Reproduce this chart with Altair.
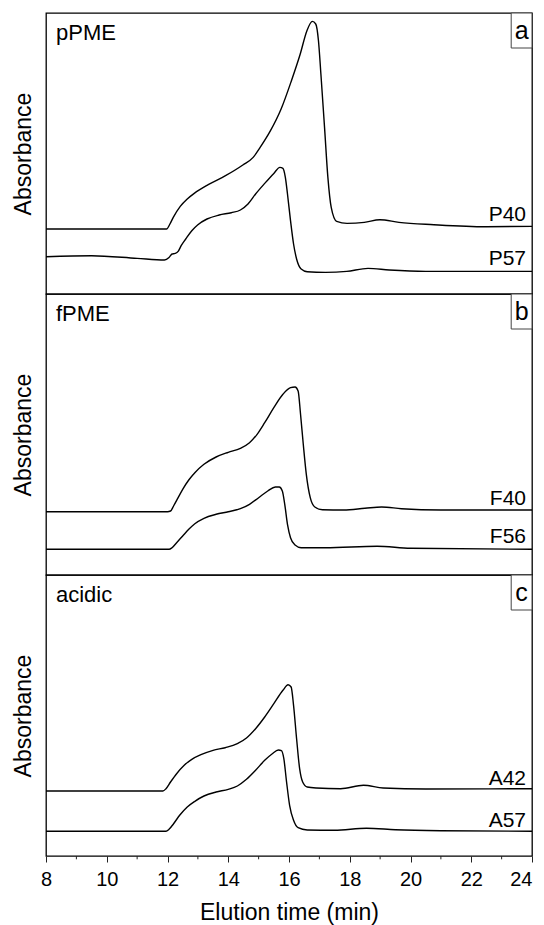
import altair as alt
import pandas as pd

# ---------------- data ----------------
P40_t = [8.0, 10.0, 11.97, 12.08, 12.19, 12.42, 12.65, 12.88, 13.34, 13.91, 14.48, 14.82,
         15.05, 15.39, 15.74, 16.08, 16.37, 16.59, 16.77, 16.88, 16.97, 17.05, 17.17,
         17.28, 17.39, 17.57, 17.91, 18.48, 18.99, 19.62, 20.77, 22.48, 24.0]
P40_a = [65, 65, 65, 70, 76.6, 87.6, 95, 100.6, 109.3, 118.3, 129, 136.6,
         146.6, 163.3, 185, 213.3, 240, 263.3, 272.6, 270, 253.3, 220, 166.6,
         116.6, 86.6, 72.6, 70.6, 71.6, 74.3, 71.6, 69.3, 67.3, 67.6]

P57_t = [8.0, 9.5, 11.0, 11.9, 12.05, 12.15, 12.25, 12.35, 12.45, 12.6, 12.8, 13.0, 13.3,
         13.7, 14.1, 14.4, 14.65, 14.9, 15.2, 15.5, 15.7, 15.8, 15.88, 15.95, 16.05, 16.15,
         16.25, 16.4, 16.6, 17.2, 17.9, 18.6, 19.3, 20.5, 24.0]
P57_a = [37.3, 38.3, 35.6, 34, 36.6, 40, 40.6, 42.6, 48.3, 55, 63.3, 69.3, 75,
         79, 81.3, 84, 90, 100, 110.6, 120.6, 126.6, 125.6, 116.6, 100, 73.3, 50,
         35, 25, 22.3, 21.6, 22.6, 25.6, 24, 22.6, 22.6]

F40_t = [8.0, 10.0, 12.0, 12.1, 12.2, 12.35, 12.5, 12.7, 12.9, 13.2, 13.6, 14.0, 14.4,
         14.7, 14.95, 15.2, 15.5, 15.8, 16.05, 16.2, 16.3, 16.38, 16.47, 16.57, 16.7,
         16.85, 17.1, 17.8, 18.5, 19.05, 19.7, 21.0, 24.0]
F40_a = [63.3, 63.3, 63.3, 64, 69, 77.3, 85.7, 95, 102.3, 110.7, 118, 122.7, 126.7,
         132.3, 140.7, 152.3, 167.3, 180.7, 187.3, 188, 184, 160.7, 130.7, 100.7, 77.3,
         68, 65.3, 65, 66.7, 68, 66.3, 65, 65]

F56_t = [8.0, 10.0, 12.05, 12.15, 12.3, 12.5, 12.7, 12.9, 13.2, 13.6, 14.0, 14.4, 14.7,
         15.0, 15.3, 15.55, 15.68, 15.78, 15.86, 15.95, 16.05, 16.2, 16.4, 17.2, 18.9,
         20.0, 24.0]
F56_a = [25.7, 25.7, 25.7, 27.3, 32.3, 39, 45.7, 51.3, 56.7, 60.7, 63.3, 66.3, 70.7,
         77.3, 84, 88, 88, 84, 70.7, 50.7, 37.3, 30, 27.3, 27.3, 28.7,
         26.7, 25.7]

A42_t = [8.0, 10.0, 11.85, 11.95, 12.1, 12.3, 12.55, 12.8, 13.1, 13.5, 13.9, 14.3, 14.6,
         14.9, 15.2, 15.5, 15.8, 15.97, 16.07, 16.15, 16.25, 16.35, 16.45, 16.6, 16.9,
         17.7, 18.45, 19.1, 20.5, 24.0]
A42_a = [65, 65, 65, 67.3, 74, 82.3, 90.7, 96.7, 101.3, 105.7, 108.3, 112.3, 118,
         127.3, 139, 152.3, 165.7, 171.3, 169, 150.7, 117.3, 87.3, 74, 69, 68,
         67.3, 70.7, 68, 67, 67.3]

A57_t = [8.0, 10.0, 11.95, 12.05, 12.2, 12.4, 12.65, 12.9, 13.2, 13.6, 14.0, 14.3, 14.6,
         14.9, 15.2, 15.45, 15.65, 15.75, 15.83, 15.92, 16.02, 16.15, 16.3, 16.6, 17.5,
         18.55, 19.5, 21.0, 24.0]
A57_a = [24.7, 24.7, 24.7, 26.7, 32.3, 40.7, 49, 54.7, 60, 64, 66.7, 70, 76.7,
         85.7, 95.7, 102.3, 106, 105.3, 97.3, 74, 50.7, 35.7, 28.3, 26, 25.7,
         27.7, 26.3, 25.3, 24.7]

panel_names = ["pPME", "fPME", "acidic"]
panel_letters = ["a", "b", "c"]
series_names = [["P40", "P57"], ["F40", "F56"], ["A42", "A57"]]
major_ticks = [8, 10, 12, 14, 16, 18, 20, 22, 24]
minor_ticks = [9, 11, 13, 15, 17, 19, 21, 23]

curves = {"P40": (P40_t, P40_a), "P57": (P57_t, P57_a),
          "F40": (F40_t, F40_a), "F56": (F56_t, F56_a),
          "A42": (A42_t, A42_a), "A57": (A57_t, A57_a)}

FONT = "Liberation Sans"
W, H = 486, 281
XDOM = [8, 24]
YDOM = [0, 281]
label_y = [[208, 252], [211, 249], [210, 252]]


def text_layer(txt, x, y, align, size):
    return alt.Chart(pd.DataFrame({"n": [txt]})).mark_text(
        align=align, baseline="alphabetic", fontSize=size, font=FONT, color="black"
    ).encode(x=alt.value(x), y=alt.value(y), text="n:N")


def make_panel(i, bottom):
    rows = []
    for s in series_names[i]:
        t, a = curves[s]
        rows += [{"t": tt, "a": aa, "s": s} for tt, aa in zip(t, a)]
    df = pd.DataFrame(rows)

    if bottom:
        xaxis = alt.Axis(values=major_ticks, tickSize=6, tickColor="#222", tickWidth=1,
                         labelFontSize=20, labelPadding=7, labelColor="black",
                         labelFlush=False, labelOverlap=False,
                         labelAlign={"condition": {"test": "datum.value >= 24",
                                                   "value": "right"},
                                     "value": "center"},
                         title="Elution time (min)", titleFontSize=23, titlePadding=12,
                         titleFontWeight="normal", titleColor="black",
                         domain=False, grid=False, format="d")
    else:
        xaxis = None

    lines = alt.Chart(df).mark_line(color="black", strokeWidth=1.4,
                                    interpolate="monotone").encode(
        x=alt.X("t:Q", scale=alt.Scale(domain=XDOM, nice=False, zero=False), axis=xaxis),
        y=alt.Y("a:Q", scale=alt.Scale(domain=YDOM, nice=False, zero=False),
                axis=alt.Axis(title="Absorbance", labels=False, ticks=False, domain=False,
                              grid=False, titleFontSize=23, titlePadding=11,
                              titleFontWeight="normal", titleColor="black")),
        detail="s:N",
    )

    name = text_layer(panel_names[i], 10, 27, "left", 22)
    slabel1 = text_layer(series_names[i][0], W - 6, label_y[i][0], "right", 21)
    slabel2 = text_layer(series_names[i][1], W - 6, label_y[i][1], "right", 21)

    box = alt.Chart(pd.DataFrame({"n": [panel_letters[i]]})).mark_rect(
        fill="white", stroke="#444", strokeWidth=1
    ).encode(x=alt.value(W - 20.8), x2=alt.value(W), y=alt.value(0), y2=alt.value(35))
    letter = text_layer(panel_letters[i], W - 10.4, 26, "center", 25)

    layers = [lines, name, slabel1, slabel2, box, letter]
    if bottom:
        minor = alt.Chart(pd.DataFrame({"m": minor_ticks})).mark_rule(
            color="#222", strokeWidth=1
        ).encode(x=alt.X("m:Q"), y=alt.value(H), y2=alt.value(H + 3.3))
        layers.append(minor)
    return alt.layer(*layers).properties(width=W, height=H)


chart = alt.vconcat(
    make_panel(0, False), make_panel(1, False), make_panel(2, True),
    spacing=0, bounds="flush"
).properties(
    padding={"left": 3, "top": 3, "right": 0, "bottom": 0}
).configure_view(
    stroke="black", strokeWidth=1.3
).configure_axis(
    labelFont=FONT, titleFont=FONT
).configure_text(font=FONT)

chart.save("out.html", embed_options={"renderer": "svg", "actions": False})
